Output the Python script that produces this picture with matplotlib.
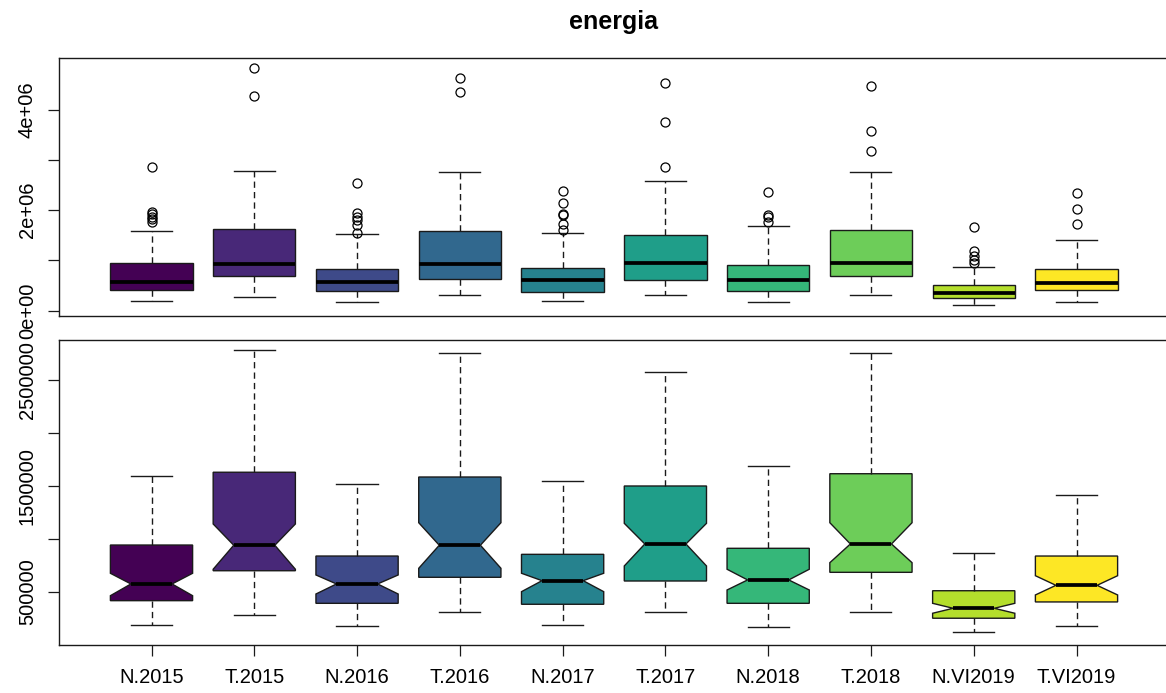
import numpy as np
import matplotlib
matplotlib.use('Agg')
import matplotlib.pyplot as plt

matplotlib.rcParams['font.family'] = ['Liberation Sans', 'DejaVu Sans']

# values in millions
labels = ["N.2015", "T.2015", "N.2016", "T.2016", "N.2017",
          "T.2017", "N.2018", "T.2018", "N.VI2019", "T.VI2019"]
colors = ["#440154", "#482878", "#3E4A89", "#31688E", "#26828E",
          "#1F9E89", "#35B779", "#6DCD59", "#B4DE2C", "#FDE725"]

whislo = [0.185, 0.280, 0.176, 0.305, 0.185, 0.305, 0.163, 0.305, 0.116, 0.173]
q1 = [0.415, 0.698, 0.390, 0.636, 0.381, 0.601, 0.390, 0.683, 0.249, 0.403]
med = [0.573, 0.939, 0.573, 0.939, 0.604, 0.951, 0.611, 0.951, 0.343, 0.560]
q3 = [0.941, 1.629, 0.837, 1.584, 0.853, 1.499, 0.910, 1.615, 0.509, 0.837]
whishi = [1.596, 2.785, 1.518, 2.759, 1.543, 2.577, 1.688, 2.759, 0.866, 1.411]
cilo = [0.462, 0.712, 0.478, 0.721, 0.500, 0.743, 0.516, 0.774, 0.296, 0.469]
cihi = [0.674, 1.140, 0.658, 1.152, 0.674, 1.146, 0.712, 1.152, 0.390, 0.651]
outliers = [
    [2.87, 1.97, 1.92, 1.87, 1.82, 1.76],
    [4.84, 4.28],
    [2.54, 1.94, 1.87, 1.81, 1.71, 1.55],
    [4.64, 4.35],
    [2.38, 2.14, 1.92, 1.90, 1.73, 1.61],
    [4.53, 3.75, 2.87],
    [2.36, 1.91, 1.87, 1.77],
    [4.48, 3.57, 3.18],
    [1.67, 1.18, 1.09, 1.01, 0.94],
    [2.34, 2.03, 1.72],
]

M = 1e6
stats = []
for i in range(len(labels)):
    stats.append(dict(label=labels[i], med=med[i] * M, q1=q1[i] * M, q3=q3[i] * M,
                      whislo=whislo[i] * M, whishi=whishi[i] * M,
                      cilo=cilo[i] * M, cihi=cihi[i] * M,
                      fliers=np.array(outliers[i]) * M))

pos = np.arange(1, len(labels) + 1)
lw = 1.0
common = dict(positions=pos, widths=0.8, capwidths=0.4, patch_artist=True,
              boxprops=dict(edgecolor='#1a1a1a', linewidth=lw),
              whiskerprops=dict(color='#1a1a1a', linewidth=lw, linestyle=(0, (4.5, 3))),
              capprops=dict(color='#1a1a1a', linewidth=lw),
              medianprops=dict(color='black', linewidth=2.7, solid_capstyle='butt'),
              flierprops=dict(marker='o', markerfacecolor='none', markeredgecolor='black',
                              markersize=6.5, markeredgewidth=0.9))

fig = plt.figure(figsize=(11.66, 6.93), dpi=100)
W, H = 1166, 693
ax1 = fig.add_axes([59 / W, 1 - 316 / H, (1169 - 59) / W, (316 - 58) / H])
ax2 = fig.add_axes([59 / W, 1 - 645 / H, (1169 - 59) / W, (645 - 340) / H])

b1 = ax1.bxp(stats, showfliers=True, shownotches=False, **common)
b2 = ax2.bxp(stats, showfliers=False, shownotches=True, **common)
for b in (b1, b2):
    for patch, c in zip(b['boxes'], colors):
        patch.set_facecolor(c)

for ax in (ax1, ax2):
    ax.set_xlim(0.1, 10.9)
    for s in ax.spines.values():
        s.set_linewidth(1.0)
        s.set_color('#1a1a1a')
    ax.tick_params(axis='y', length=8, width=0.9, pad=8, labelsize=14.5,
                   color='#1a1a1a')

ax1.set_ylim(-0.106 * M, 5.03 * M)
ax1.set_yticks(np.array([0, 1, 2, 3, 4]) * M)
ax1.set_yticklabels(["0e+00", "", "2e+06", "", "4e+06"], rotation=90, va='center')
ax1.set_xticks([])

ax2.set_ylim(-0.004 * M, 2.879 * M)
ax2.set_yticks(np.array([0.5, 1.0, 1.5, 2.0, 2.5]) * M)
ax2.set_yticklabels(["500000", "", "1500000", "", "2500000"], rotation=90, va='center')
ax2.set_xticks(pos)
ax2.set_xticklabels(labels)
ax2.tick_params(axis='x', length=8, width=0.9, pad=8.6, labelsize=14.5, color='#1a1a1a')

fig.text(614 / W, 1 - 22 / H, "energia", ha='center', va='center',
         fontsize=18, fontweight='bold')

fig.savefig("out.png", dpi=100)
